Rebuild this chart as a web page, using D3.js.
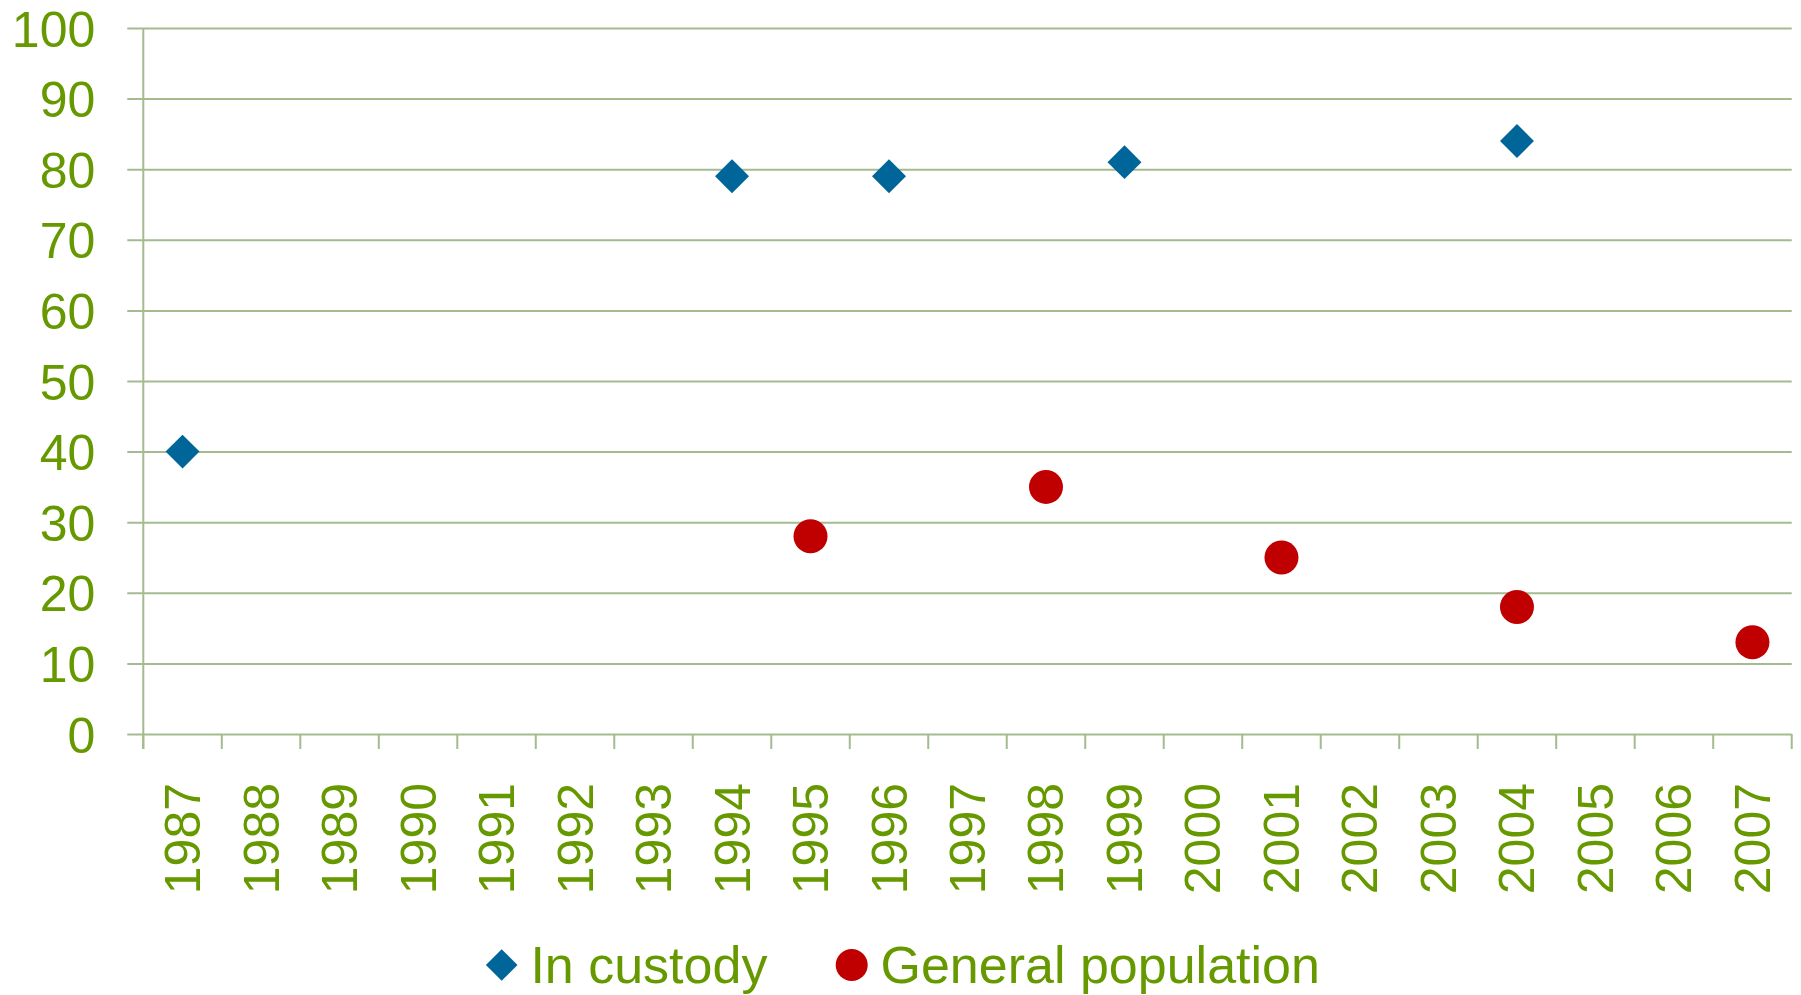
<!DOCTYPE html>
<html>
<head>
<meta charset="utf-8">
<script src="https://cdn.jsdelivr.net/npm/d3@7"></script>
<style>
  html, body { margin: 0; padding: 0; background: #ffffff; }
  svg { display: block; font-family: "Liberation Sans", Arial, sans-serif; }
</style>
</head>
<body>
<svg id="chart" width="1801" height="995"></svg>
<script>
// Years on the category axis
const years = ["1987","1988","1989","1990","1991","1992","1993","1994","1995","1996",
               "1997","1998","1999","2000","2001","2002","2003","2004","2005","2006","2007"];

// Survey results (%) for each group
const custodyYears  = ["1987","1994","1996","1999","2004"];
const custodyValues = [40, 79, 79, 81, 84];

const generalYears  = ["1995","1998","2001","2004","2007"];
const generalValues = [28, 35, 25, 18, 13];

const yTicks = [0, 10, 20, 30, 40, 50, 60, 70, 80, 90, 100];

const seriesNames = ["In custody", "General population"];

const textColor = "#669900";
const gridColor = "#a3bb8e";
const blue = "#006699";
const red = "#c00000";

const svg = d3.select("#chart");

const plot = { left: 143.3, right: 1791.7, top: 28, bottom: 734 };

const x = d3.scaleBand().domain(years).range([plot.left, plot.right]).padding(0);
const y = d3.scaleLinear().domain([0, 100]).range([plot.bottom, plot.top]);

// Horizontal gridlines with short ticks to the left of the axis
const yAxis = d3.axisLeft(y).tickValues(yTicks).tickSize(-(plot.right - plot.left)).tickPadding(0).tickFormat(d3.format("d"));
const gy = svg.append("g").attr("transform", `translate(${plot.left},0)`).call(yAxis);
gy.select(".domain").remove();
gy.selectAll(".tick line")
  .attr("x1", -16)
  .attr("stroke", gridColor)
  .attr("stroke-width", 2);
gy.selectAll(".tick text")
  .attr("x", -48)
  .attr("dy", "0.36em")
  .attr("fill", textColor)
  .attr("font-size", 50)
  .attr("text-anchor", "end");

// Vertical axis line
svg.append("line")
  .attr("x1", plot.left).attr("x2", plot.left)
  .attr("y1", plot.top).attr("y2", plot.bottom + 15)
  .attr("stroke", gridColor).attr("stroke-width", 2);

// Category boundary ticks below the baseline
const bounds = years.map(d => x(d)).concat([x(years[years.length - 1]) + x.bandwidth()]);
svg.append("g").selectAll("line").data(bounds).join("line")
  .attr("x1", d => d).attr("x2", d => d)
  .attr("y1", plot.bottom).attr("y2", plot.bottom + 15)
  .attr("stroke", gridColor).attr("stroke-width", 2);

// Rotated year labels
svg.append("g").selectAll("text").data(years).join("text")
  .attr("transform", d => `translate(${x(d) + x.bandwidth() / 2 + 17.5},${783}) rotate(-90)`)
  .attr("text-anchor", "end")
  .attr("fill", textColor)
  .attr("font-size", 50)
  .text(d => d);

// In custody: diamonds
const diamond = d3.symbol().type(d3.symbolSquare).size(576);
svg.append("g").selectAll("path")
  .data(custodyYears.map((yr, i) => ({ yr, v: custodyValues[i] })))
  .join("path")
  .attr("d", diamond)
  .attr("transform", d => `translate(${x(d.yr) + x.bandwidth() / 2},${y(d.v)}) rotate(45)`)
  .attr("fill", blue);

// General population: circles
svg.append("g").selectAll("circle")
  .data(generalYears.map((yr, i) => ({ yr, v: generalValues[i] })))
  .join("circle")
  .attr("cx", d => x(d.yr) + x.bandwidth() / 2)
  .attr("cy", d => y(d.v))
  .attr("r", 17)
  .attr("fill", red);

// Legend
const legend = svg.append("g").attr("transform", "translate(501.7,965)");
legend.append("path")
  .attr("d", d3.symbol().type(d3.symbolSquare).size(500))
  .attr("transform", "rotate(45)")
  .attr("fill", blue);
legend.append("text")
  .attr("x", 28.7).attr("y", 18.3)
  .attr("fill", textColor).attr("font-size", 52)
  .text(seriesNames[0]);
legend.append("circle")
  .attr("cx", 350).attr("cy", 0)
  .attr("r", 16)
  .attr("fill", red);
legend.append("text")
  .attr("x", 378.8).attr("y", 18.3)
  .attr("fill", textColor).attr("font-size", 52)
  .text(seriesNames[1]);
</script>
</body>
</html>
